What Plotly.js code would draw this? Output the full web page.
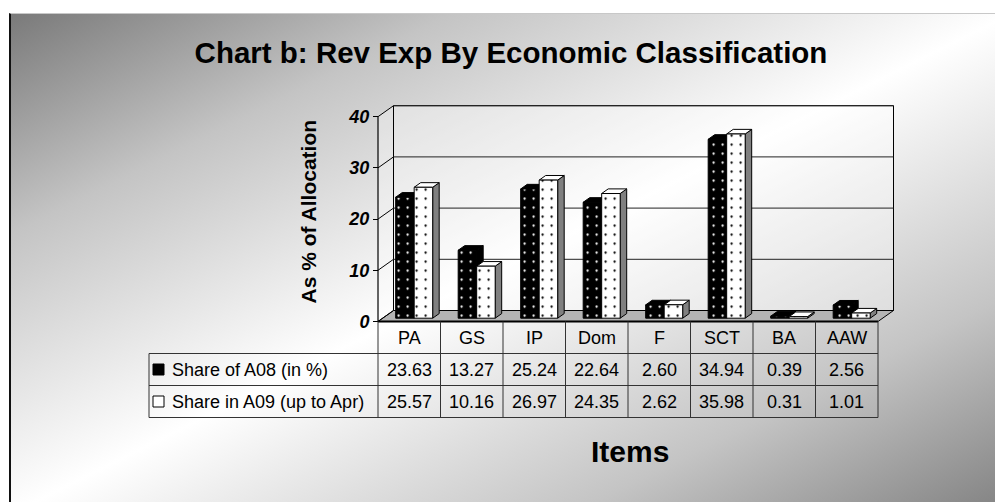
<!DOCTYPE html>
<html>
<head>
<meta charset="utf-8">
<script src="https://cdn.plot.ly/plotly-3.0.1.min.js"></script>
<style>
  html, body { margin: 0; padding: 0; background: #ffffff; width: 995px; height: 502px; overflow: hidden; }
  #frame { position: absolute; left: 9px; top: 13px; width: 1000px; height: 500px;
    border-left: 2px solid #111; border-top: 1px solid #c8c8c8;
    background: linear-gradient(to bottom right, #7a7a7a 0%, #c4c4c4 22%, #ffffff 50%, #c4c4c4 78%, #808080 100%); }
  #chart { position: absolute; left: 0; top: 0; width: 995px; height: 502px; }
</style>
</head>
<body>
<div id="frame"></div>
<div id="chart"></div>
<script>
// ---- data ----
const categories = ['PA', 'GS', 'IP', 'Dom', 'F', 'SCT', 'BA', 'AAW'];
const seriesNames = ['Share of A08 (in %)', 'Share in A09 (up to Apr)'];
const shareA08 = [23.63, 13.27, 25.24, 22.64, 2.60, 34.94, 0.39, 2.56];
const shareA09 = [25.57, 10.16, 26.97, 24.35, 2.62, 35.98, 0.31, 1.01];
const yTicks = [0, 10, 20, 30, 40];
const chartTitle = 'Chart b: Rev Exp By Economic Classification';
const yTitle = 'As % of Allocation';
const xTitle = 'Items';

// ---- geometry / style ----
const W = 995, H = 502;
const FONT = 'Liberation Sans, Arial, sans-serif';
const frontLeftPx = 378, colPx = 62.5, zeroPx = 321.5, pxPerUnit = 5.12;
const yMax = yTicks[yTicks.length - 1];
const nCat = categories.length;
const dxCat = 0.248, dyUnit = 2.148;          // wall depth in data units
const f0 = 0.30, f1 = 0.72;                    // bar front/back depth fractions
const barW = 0.296, pairShift = 0.079;
const xpad = 0.03, ypad = 0.3;

const xr = [-0.5 - xpad, nCat - 0.5 + dxCat + xpad];
const yr = [-ypad, yMax + dyUnit + ypad];
const xDom0px = frontLeftPx - xpad * colPx;
const xDom1px = frontLeftPx + (xr[1] + 0.5) * colPx;
const yDomBotPx = zeroPx + ypad * pxPerUnit;
const yDomTopPx = zeroPx - yr[1] * pxPerUnit;

function xPx(v) { return xDom0px + (v - xr[0]) / (xr[1] - xr[0]) * (xDom1px - xDom0px); }
function px2x(px) { return px / W; }
function py2y(py) { return 1 - py / H; }

const baseF = f0 * dyUnit;
const bdx = (f1 - f0) * dxCat, bdy = (f1 - f0) * dyUnit;
const idx = categories.map((c, i) => i);

const series = [
  { vals: shareA08, off: pairShift - barW, face: '#000000', side: '#000000', fg: '#ffffff', bg: '#000000' },
  { vals: shareA09, off: pairShift, face: '#ffffff', side: '#808080', fg: '#000000', bg: '#ffffff' }
];

const traces = series.map((s, k) => ({
  type: 'bar',
  x: idx,
  y: s.vals,
  base: idx.map(() => baseF),
  offset: s.off,
  width: barW,
  name: seriesNames[k],
  marker: {
    color: s.bg,
    line: { color: '#000', width: 1 },
    pattern: { shape: '.', fgcolor: s.fg, bgcolor: s.bg, size: 9, solidity: 0.05, fillmode: 'replace' }
  },
  hoverinfo: 'skip',
  showlegend: false
}));

const shapes = [];
const P = (pts) => 'M ' + pts.map(p => p[0] + ',' + p[1]).join(' L ') + ' Z';
const L = (x0, y0, x1, y1, w, c) => ({ type: 'line', xref: 'x', yref: 'y', layer: 'below', x0, y0, x1, y1, line: { color: c || '#000', width: w || 1 } });

const xa = -0.5, xb = nCat - 0.5;
// side wall
shapes.push({ type: 'path', xref: 'x', yref: 'y', layer: 'below',
  path: P([[xa, 0], [xa + dxCat, dyUnit], [xa + dxCat, yMax + dyUnit], [xa, yMax]]),
  fillcolor: 'rgba(255,255,255,0.30)', line: { width: 0 } });
// back wall
shapes.push({ type: 'path', xref: 'x', yref: 'y', layer: 'below',
  path: P([[xa + dxCat, dyUnit], [xb + dxCat, dyUnit], [xb + dxCat, yMax + dyUnit], [xa + dxCat, yMax + dyUnit]]),
  fillcolor: 'rgba(255,255,255,0.35)', line: { color: '#000', width: 1 } });
// floor
shapes.push({ type: 'path', xref: 'x', yref: 'y', layer: 'below',
  path: P([[xa, 0], [xb, 0], [xb + dxCat, dyUnit], [xa + dxCat, dyUnit]]),
  fillcolor: '#b4b4b4', line: { color: '#000', width: 1 } });
// gridlines on walls
yTicks.forEach(v => {
  shapes.push(L(xa, v, xa + dxCat, v + dyUnit, 1, '#000'));
  if (v > 0) shapes.push(L(xa + dxCat, v + dyUnit, xb + dxCat, v + dyUnit, 1, '#222'));
});
// front axis
shapes.push(L(xa, 0, xa, yMax, 1.2, '#000'));
shapes.push(L(xa, 0, xb, 0, 2, '#000'));

// bar top & side faces
idx.forEach(i => {
  series.forEach(s => {
    const v = s.vals[i];
    const x0 = i + s.off, x1 = x0 + barW, top = v + baseF;
    shapes.push({ type: 'path', xref: 'x', yref: 'y', layer: 'below',
      path: P([[x1, baseF], [x1, top], [x1 + bdx, top + bdy], [x1 + bdx, baseF + bdy]]),
      fillcolor: s.side, line: { color: '#000', width: 1 } });
    shapes.push({ type: 'path', xref: 'x', yref: 'y', layer: 'below',
      path: P([[x0, top], [x1, top], [x1 + bdx, top + bdy], [x0 + bdx, top + bdy]]),
      fillcolor: s.face, line: { color: '#000', width: 1 } });
  });
});

// ---- data table ----
const tblTop = zeroPx, rowH = 32, legLeft = 149;
const rowLines = [tblTop + rowH, tblTop + 2 * rowH, tblTop + 3 * rowH];
const tLine = { color: '#333', width: 1 };
rowLines.forEach(py => shapes.push({ type: 'line', xref: 'paper', yref: 'paper',
  x0: px2x(legLeft), x1: px2x(xPx(xb)), y0: py2y(py), y1: py2y(py), line: tLine }));
for (let k = 0; k <= nCat; k++) {
  const px = xPx(k - 0.5);
  shapes.push({ type: 'line', xref: 'paper', yref: 'paper', x0: px2x(px), x1: px2x(px),
    y0: py2y(tblTop), y1: py2y(rowLines[2]), line: tLine });
}
shapes.push({ type: 'line', xref: 'paper', yref: 'paper', x0: px2x(legLeft), x1: px2x(legLeft),
  y0: py2y(rowLines[0]), y1: py2y(rowLines[2]), line: tLine });
// legend keys
series.forEach((s, k) => {
  const cy = tblTop + rowH * (k + 1.5);
  shapes.push({ type: 'rect', xref: 'paper', yref: 'paper',
    x0: px2x(153), x1: px2x(164), y0: py2y(cy - 5.5), y1: py2y(cy + 5.5),
    fillcolor: s.bg, line: { color: '#000', width: 1 } });
});

const annotations = [];
const tfont = { family: FONT, size: 18, color: '#000' };
categories.forEach((c, i) => {
  annotations.push({ xref: 'paper', yref: 'paper', x: px2x(xPx(i)), y: py2y(tblTop + rowH / 2),
    text: c, showarrow: false, xanchor: 'center', yanchor: 'middle', font: tfont });
  series.forEach((s, k) => {
    annotations.push({ xref: 'paper', yref: 'paper', x: px2x(xPx(i)), y: py2y(tblTop + rowH * (k + 1.5)),
      text: s.vals[i].toFixed(2), showarrow: false, xanchor: 'center', yanchor: 'middle', font: tfont });
  });
});
seriesNames.forEach((n, k) => {
  annotations.push({ xref: 'paper', yref: 'paper', x: px2x(170), y: py2y(tblTop + rowH * (k + 1.5)),
    text: n, showarrow: false, xanchor: 'left', yanchor: 'middle', font: tfont });
});
annotations.push({ xref: 'paper', yref: 'paper', x: px2x(307.5), y: py2y(212),
  text: yTitle, textangle: -90, showarrow: false, xanchor: 'center', yanchor: 'middle',
  font: { family: FONT, size: 21, weight: 'bold', color: '#000' } });
annotations.push({ xref: 'paper', yref: 'paper', x: px2x(630), y: py2y(451),
  text: xTitle, showarrow: false, xanchor: 'center', yanchor: 'middle',
  font: { family: FONT, size: 30, weight: 'bold', color: '#000' } });

const layout = {
  width: W, height: H,
  margin: { l: 0, r: 0, t: 0, b: 0 },
  paper_bgcolor: 'rgba(0,0,0,0)',
  plot_bgcolor: 'rgba(0,0,0,0)',
  barmode: 'overlay',
  showlegend: false,
  title: { text: chartTitle, x: px2x(511), xanchor: 'center', y: py2y(53), yanchor: 'middle',
    font: { family: FONT, size: 29.5, weight: 'bold', color: '#000' } },
  xaxis: { range: xr, domain: [xDom0px / W, xDom1px / W], visible: false, fixedrange: true },
  yaxis: { range: yr, domain: [py2y(yDomBotPx), py2y(yDomTopPx)], anchor: 'free', position: px2x(frontLeftPx),
    tickvals: yTicks, ticktext: yTicks.map(String), ticks: 'outside', ticklen: 5, tickcolor: '#000', tickwidth: 1,
    showline: false, showgrid: false, zeroline: false, fixedrange: true,
    tickfont: { family: FONT, size: 18, weight: 'bold', style: 'italic', color: '#000' } },
  shapes: shapes,
  annotations: annotations
};

Plotly.newPlot('chart', traces, layout, { staticPlot: true, displayModeBar: false });
</script>
</body>
</html>
